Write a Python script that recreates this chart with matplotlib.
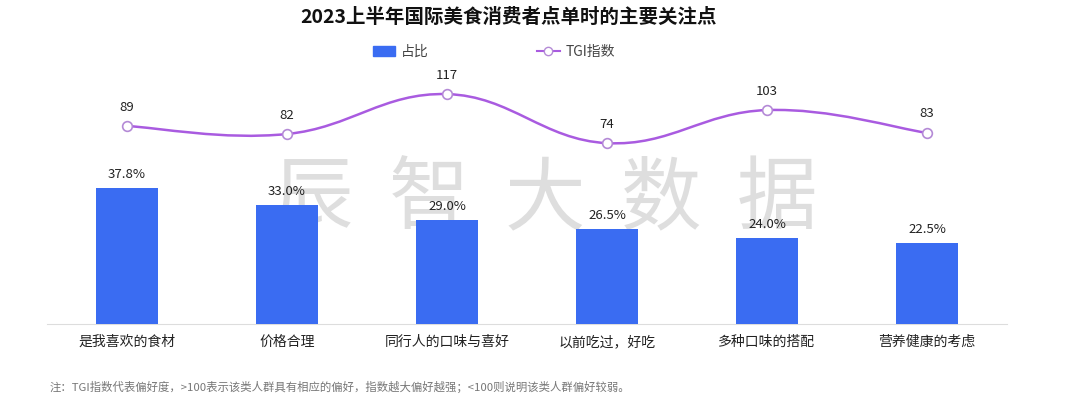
import matplotlib.pyplot as plt
from matplotlib.path import Path
from matplotlib.patches import PathPatch, Patch
from matplotlib.lines import Line2D

plt.rcParams['font.family'] = ['Noto Sans CJK SC', 'DejaVu Sans']

categories = ["是我喜欢的食材", "价格合理", "同行人的口味与喜好", "以前吃过，好吃", "多种口味的搭配", "营养健康的考虑"]
share = [37.8, 33.0, 29.0, 26.5, 24.0, 22.5]
tgi = [89, 82, 117, 74, 103, 83]

bar_color = "#3a6cf2"
line_color = "#a95be0"

fig = plt.figure(figsize=(10.8, 3.99), dpi=100)
ax = fig.add_axes([47 / 1080, 1 - 324 / 399, 960 / 1080, 264 / 399])
ax2 = ax.twinx()

# watermark
for i, ch in enumerate("辰智大数据"):
    fig.text((313 + i * 116) / 1080, 1 - 200 / 399, ch, fontsize=58, color="#dedede",
             ha="center", va="center", zorder=0)
ax.set_zorder(1)
ax2.set_zorder(2)
ax.patch.set_visible(False)
ax2.patch.set_visible(False)

x = list(range(len(categories)))
ax.bar(x, share, width=0.39, color=bar_color, zorder=3)
for xi, v in zip(x, share):
    ax.annotate(f"{v:.1f}%", (xi, v), xytext=(0, 5), textcoords="offset points",
                ha="center", va="bottom", fontsize=9.5, color="#222222")
ax.set_xlim(-0.5, len(categories) - 0.5)
ax.set_ylim(0, 73.3)
ax.set_xticks(x)
ax.set_xticklabels(categories, fontsize=10, color="#222222")
ax.tick_params(axis="x", length=0, pad=8)
ax.set_yticks([])
for s in ["top", "right", "left"]:
    ax.spines[s].set_visible(False)
ax.spines["bottom"].set_color("#dddddd")

# smooth TGI line (cubic bezier through the points)
ax2.set_ylim(-84.6, 146.9)
ax2.set_yticks([])
for s in ax2.spines.values():
    s.set_visible(False)
pts = list(zip(x, tgi))
k = 0.2
verts = [pts[0]]
codes = [Path.MOVETO]
for i in range(len(pts) - 1):
    p0 = pts[i - 1] if i > 0 else pts[i]
    p1 = pts[i]
    p2 = pts[i + 1]
    p3 = pts[i + 2] if i + 2 < len(pts) else pts[i + 1]
    c1 = (p1[0] + (p2[0] - p0[0]) * k, p1[1] + (p2[1] - p0[1]) * k)
    c2 = (p2[0] - (p3[0] - p1[0]) * k, p2[1] - (p3[1] - p1[1]) * k)
    verts += [c1, c2, p2]
    codes += [Path.CURVE4] * 3
ax2.add_patch(PathPatch(Path(verts, codes), fill=False, edgecolor=line_color, lw=1.8, zorder=3))
ax2.plot(x, tgi, linestyle="none", marker="o", markersize=7, markerfacecolor="white",
         markeredgecolor="#b48ad6", markeredgewidth=1.2, zorder=4)
for xi, v in zip(x, tgi):
    ax2.annotate(str(v), (xi, v), xytext=(0, 9), textcoords="offset points",
                 ha="center", va="bottom", fontsize=9.5, color="#222222")

fig.text(509 / 1080, 1 - 17 / 399, "2023上半年国际美食消费者点单时的主要关注点", ha="center", va="center",
         fontsize=14, fontweight="bold", color="#111111")

handles = [Patch(color=bar_color),
           Line2D([0], [0], color=line_color, lw=1.5, marker="o", markersize=6,
                  markerfacecolor="white", markeredgecolor="#b48ad6")]
fig.legend(handles, ["占比", "TGI指数"], loc="center", bbox_to_anchor=(494 / 1080, 1 - 52 / 399),
           ncol=2, frameon=False, fontsize=10, handlelength=1.6, handleheight=0.75,
           handletextpad=0.45, columnspacing=7.8, labelcolor="#444444")

fig.text(50 / 1080, 1 - 387 / 399,
         "注：TGI指数代表偏好度，>100表示该类人群具有相应的偏好，指数越大偏好越强；<100则说明该类人群偏好较弱。",
         ha="left", va="center", fontsize=8.2, color="#777777")

fig.savefig("out.png", dpi=100)
